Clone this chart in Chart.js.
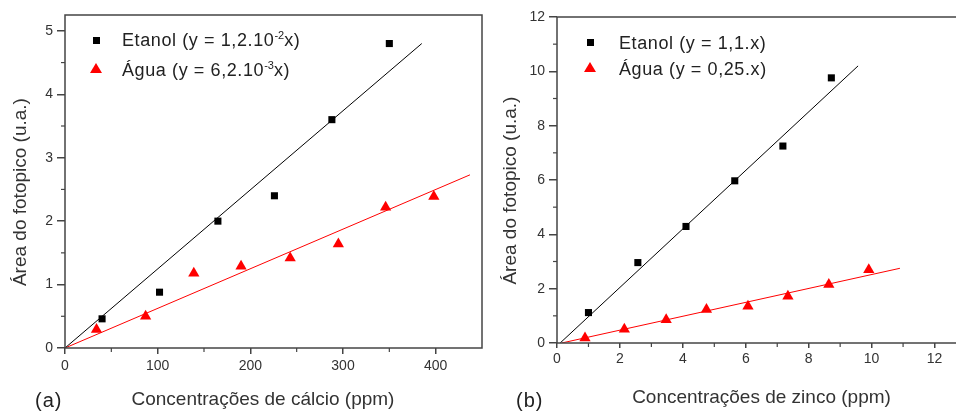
<!DOCTYPE html>
<html>
<head>
<meta charset="utf-8">
<script src="https://cdn.jsdelivr.net/npm/chart.js@4.4.1/dist/chart.umd.min.js"></script>
<style>
  html, body { margin: 0; padding: 0; background: #fff; width: 956px; height: 411px; overflow: hidden; }
  body { position: relative; font-family: "Liberation Sans", Arial, sans-serif; color: #222; }
  canvas { position: absolute; top: 0; }
  #calcio { left: 0; }
  #zinco { left: 484px; }
  .tag { position: absolute; top: 388px; font-size: 20px; line-height: 24px; letter-spacing: 1px; color: #222; }
  .row { position: absolute; font-size: 18px; line-height: 20px; letter-spacing: 0.6px; white-space: nowrap; color: #222; }
  .row sup { font-size: 11px; vertical-align: 7px; line-height: 0; letter-spacing: 0; }
  .sq { position: absolute; width: 7px; height: 7px; background: #000; }
  .tri { position: absolute; width: 0; height: 0; border-left: 6px solid transparent;
         border-right: 6px solid transparent; border-bottom: 10px solid #f00; }
</style>
</head>
<body>
<canvas id="calcio" width="490" height="411"></canvas>
<canvas id="zinco" width="500" height="411"></canvas>
<div class="tag" style="left:35px">(a)</div>
<div class="tag" style="left:516px">(b)</div>
<div id="legend-calcio"></div>
<div id="legend-zinco"></div>
<script>
// (a) calcio
const calcioEtanolX = [40, 102, 165, 226, 288, 350];
const calcioEtanolY = [0.46, 0.88, 2.0, 2.4, 3.6, 4.8];
const calcioAguaX = [34, 87, 139, 190, 243, 295, 346, 398];
const calcioAguaY = [0.29, 0.5, 1.18, 1.29, 1.42, 1.64, 2.22, 2.39];
const calcioFitEtanolX = [0, 385];
const calcioFitEtanolY = [0, 4.8];
const calcioFitAguaX = [0, 437];
const calcioFitAguaY = [0, 2.73];
const calcioMinorX = [50, 150, 250, 350];
const calcioMinorY = [0.5, 1.5, 2.5, 3.5, 4.5];
const calcioLabels = ["Etanol (y = 1,2.10<sup>-2</sup>x)", "Água (y = 6,2.10<sup>-3</sup>x)"];

// (b) zinco
const zincoEtanolX = [1.0, 2.57, 4.1, 5.65, 7.18, 8.72];
const zincoEtanolY = [1.12, 2.96, 4.29, 5.97, 7.25, 9.76];
const zincoAguaX = [0.89, 2.14, 3.47, 4.75, 6.07, 7.34, 8.64, 9.91];
const zincoAguaY = [0.18, 0.51, 0.86, 1.23, 1.35, 1.72, 2.15, 2.7];
const zincoFitEtanolX = [0.1, 9.57];
const zincoFitEtanolY = [0, 10.2];
const zincoFitAguaX = [0.15, 10.9];
const zincoFitAguaY = [0, 2.75];
const zincoMinorX = [1, 3, 5, 7, 9, 11];
const zincoMinorY = [1, 3, 5, 7, 9, 11];
const zincoLabels = ["Etanol (y = 1,1.x)", "Água (y = 0,25.x)"];

const FONT = "'Liberation Sans', Arial, sans-serif";
const AXIS = "#444";

const pts = (xs, ys) => xs.map((x, i) => ({ x, y: ys[i] }));

// box round the plot and the short minor ticks
const framePlugin = {
  id: "frame",
  afterDraw(chart, args, o) {
    const { ctx, chartArea: a, scales } = chart;
    ctx.save();
    ctx.strokeStyle = AXIS;
    ctx.lineWidth = 1.5;
    ctx.strokeRect(a.left, a.top, a.right - a.left, a.bottom - a.top);
    ctx.lineWidth = 1.2;
    o.minorX.forEach((v) => {
      const x = scales.x.getPixelForValue(v);
      ctx.beginPath();
      ctx.moveTo(x, a.bottom);
      ctx.lineTo(x, a.bottom + 4);
      ctx.stroke();
    });
    o.minorY.forEach((v) => {
      const y = scales.y.getPixelForValue(v);
      ctx.beginPath();
      ctx.moveTo(a.left, y);
      ctx.lineTo(a.left - 4, y);
      ctx.stroke();
    });
    ctx.restore();
  },
};

function makeChart(id, cfg) {
  return new Chart(document.getElementById(id), {
    type: "scatter",
    data: {
      datasets: [
        { data: pts(cfg.etX, cfg.etY), pointStyle: "rect", pointRadius: 5, borderWidth: 0,
          backgroundColor: "#000", borderColor: "#000" },
        { data: pts(cfg.agX, cfg.agY), pointStyle: "triangle", pointRadius: 6.5, borderWidth: 0,
          backgroundColor: "#f00", borderColor: "#f00" },
        { data: pts(cfg.fitEtX, cfg.fitEtY), showLine: true, pointRadius: 0, borderColor: "#000", borderWidth: 1 },
        { data: pts(cfg.fitAgX, cfg.fitAgY), showLine: true, pointRadius: 0, borderColor: "#f00", borderWidth: 1 },
      ],
    },
    options: {
      responsive: false,
      animation: false,
      layout: { padding: cfg.padding },
      plugins: {
        legend: { display: false },
        tooltip: { enabled: false },
        frame: { minorX: cfg.minorX, minorY: cfg.minorY },
      },
      scales: {
        x: {
          type: "linear",
          min: 0,
          max: cfg.xMax,
          afterFit: (s) => { s.height = cfg.xHeight; },
          border: { display: false },
          grid: { drawOnChartArea: false, tickLength: cfg.xTick, color: AXIS, lineWidth: 1.5 },
          ticks: { stepSize: cfg.xStep, includeBounds: false, padding: cfg.xPad, color: "#333",
                   font: { family: FONT, size: 14 }, maxRotation: 0 },
          title: { display: true, text: cfg.xTitle, color: "#333", font: { family: FONT, size: 19 },
                   padding: { top: 0, bottom: cfg.xTitlePad } },
        },
        y: {
          type: "linear",
          min: 0,
          max: cfg.yMax,
          afterFit: (s) => { s.width = cfg.yWidth; },
          border: { display: false },
          grid: { drawOnChartArea: false, tickLength: 8, color: AXIS, lineWidth: 1.5 },
          ticks: { stepSize: cfg.yStep, includeBounds: false, padding: 4, color: "#333",
                   font: { family: FONT, size: 14 } },
          title: { display: true, text: "Área do fotopico (u.a.)    ", color: "#333",
                   font: { family: FONT, size: 19 }, padding: { top: cfg.yTitlePad, bottom: 0 } },
        },
      },
    },
    plugins: [framePlugin],
  });
}

function makeLegend(id, labels, mx, rows, textX) {
  const box = document.getElementById(id);
  labels.forEach((txt, i) => {
    const mark = document.createElement("div");
    mark.className = i === 0 ? "sq" : "tri";
    if (i === 0) {
      mark.style.left = mx - 3.5 + "px";
      mark.style.top = rows[i] - 3.5 + "px";
    } else {
      mark.style.left = mx - 6 + "px";
      mark.style.top = rows[i] - 5 + "px";
    }
    box.appendChild(mark);
    const row = document.createElement("div");
    row.className = "row";
    row.style.left = textX + "px";
    row.style.top = rows[i] - 10 + (i === 0 ? 0 : 2) + "px";
    row.innerHTML = txt;
    box.appendChild(row);
  });
}

makeChart("calcio", {
  etX: calcioEtanolX, etY: calcioEtanolY, agX: calcioAguaX, agY: calcioAguaY,
  fitEtX: calcioFitEtanolX, fitEtY: calcioFitEtanolY, fitAgX: calcioFitAguaX, fitAgY: calcioFitAguaY,
  minorX: calcioMinorX, minorY: calcioMinorY,
  xMax: 450, yMax: 5.25, xStep: 100, yStep: 1,
  padding: { top: 15, right: 8, bottom: 0, left: 0 },
  xHeight: 63, yWidth: 65, xTick: 6, xPad: 4, xTitlePad: 0, yTitlePad: 9,
  xTitle: "Concentrações de cálcio (ppm)    ",
});

makeChart("zinco", {
  etX: zincoEtanolX, etY: zincoEtanolY, agX: zincoAguaX, agY: zincoAguaY,
  fitEtX: zincoFitEtanolX, fitEtY: zincoFitEtanolY, fitAgX: zincoFitAguaX, fitAgY: zincoFitAguaY,
  minorX: zincoMinorX, minorY: zincoMinorY,
  xMax: 13, yMax: 12, xStep: 2, yStep: 2,
  padding: { top: 17, right: 18, bottom: 0, left: 0 },
  xHeight: 68, yWidth: 73, xTick: 5, xPad: 3, xTitlePad: 2, yTitlePad: 15,
  xTitle: "Concentrações de zinco (ppm)",
});

makeLegend("legend-calcio", calcioLabels, 96, [40, 67.5], 122);
makeLegend("legend-zinco", zincoLabels, 590, [42.5, 67], 619);
</script>
</body>
</html>
